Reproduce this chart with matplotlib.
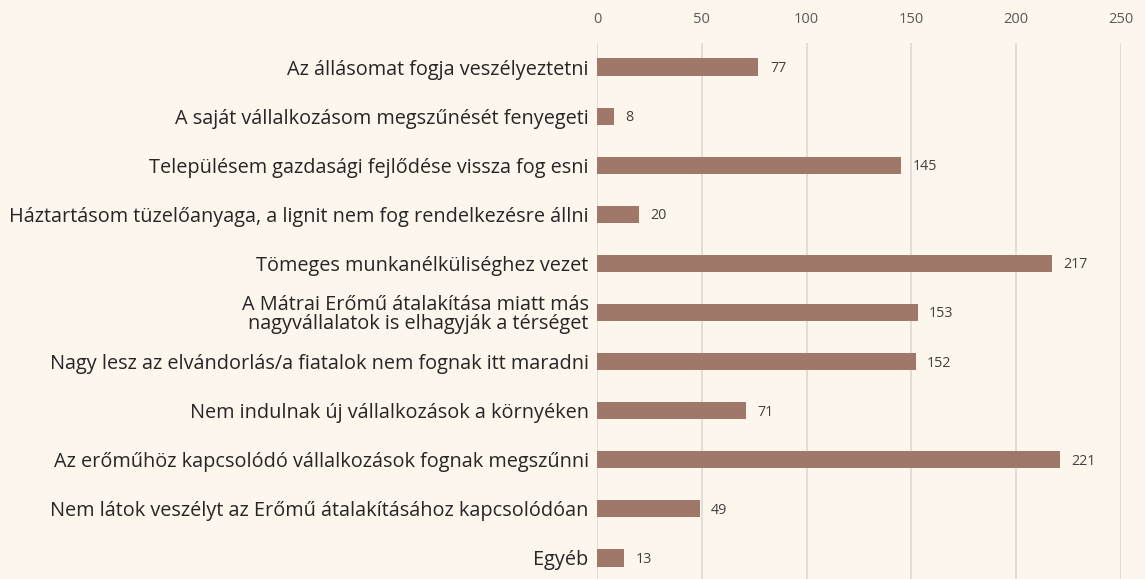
import matplotlib
matplotlib.use("Agg")
import matplotlib.pyplot as plt

categories = [
    "Az állásomat fogja veszélyeztetni",
    "A saját vállalkozásom megszűnését fenyegeti",
    "Településem gazdasági fejlődése vissza fog esni",
    "Háztartásom tüzelőanyaga, a lignit nem fog rendelkezésre állni",
    "Tömeges munkanélküliséghez vezet",
    "A Mátrai Erőmű átalakítása miatt más\nnagyvállalatok is elhagyják a térséget",
    "Nagy lesz az elvándorlás/a fiatalok nem fognak itt maradni",
    "Nem indulnak új vállalkozások a környéken",
    "Az erőműhöz kapcsolódó vállalkozások fognak megszűnni",
    "Nem látok veszélyt az Erőmű átalakításához kapcsolódóan",
    "Egyéb",
]
values = [77, 8, 145, 20, 217, 153, 152, 71, 221, 49, 13]
xticks = [0, 50, 100, 150, 200, 250]

BG = "#FDF6EC"
BAR = "#A0786A"

plt.rcParams['font.family'] = ['Open Sans', 'DejaVu Sans']

fig = plt.figure(figsize=(11.45, 5.79), dpi=100, facecolor=BG)
ax = fig.add_axes([597/1145, 1 - 582.5/579, 524/1145, 540/579], facecolor=BG)

y = list(range(len(categories)))
ax.barh(y, values, height=0.35, color=BAR, zorder=3)
for yi, v in zip(y, values):
    ax.text(v + 5.5, yi + 0.03, str(v), va='center', ha='left', fontsize=10.3, color='#404040')

ax.set_xlim(0, 250)
ax.set_ylim(len(categories) - 0.5, -0.5)
ax.set_yticks(y)
ax.set_yticklabels(categories, fontsize=14.3, color='#262626', linespacing=0.92)
ax.set_xticks(xticks)
ax.set_xticklabels([str(t) for t in xticks], fontsize=10.5, color='#595959')
ax.xaxis.tick_top()
ax.tick_params(axis='x', length=0, pad=11)
ax.tick_params(axis='y', length=0, pad=6)
ax.grid(axis='x', color='#DCDAD6', linewidth=1.2, zorder=0)
for s in ax.spines.values():
    s.set_visible(False)

fig.savefig("out.png", dpi=100, facecolor=BG)
